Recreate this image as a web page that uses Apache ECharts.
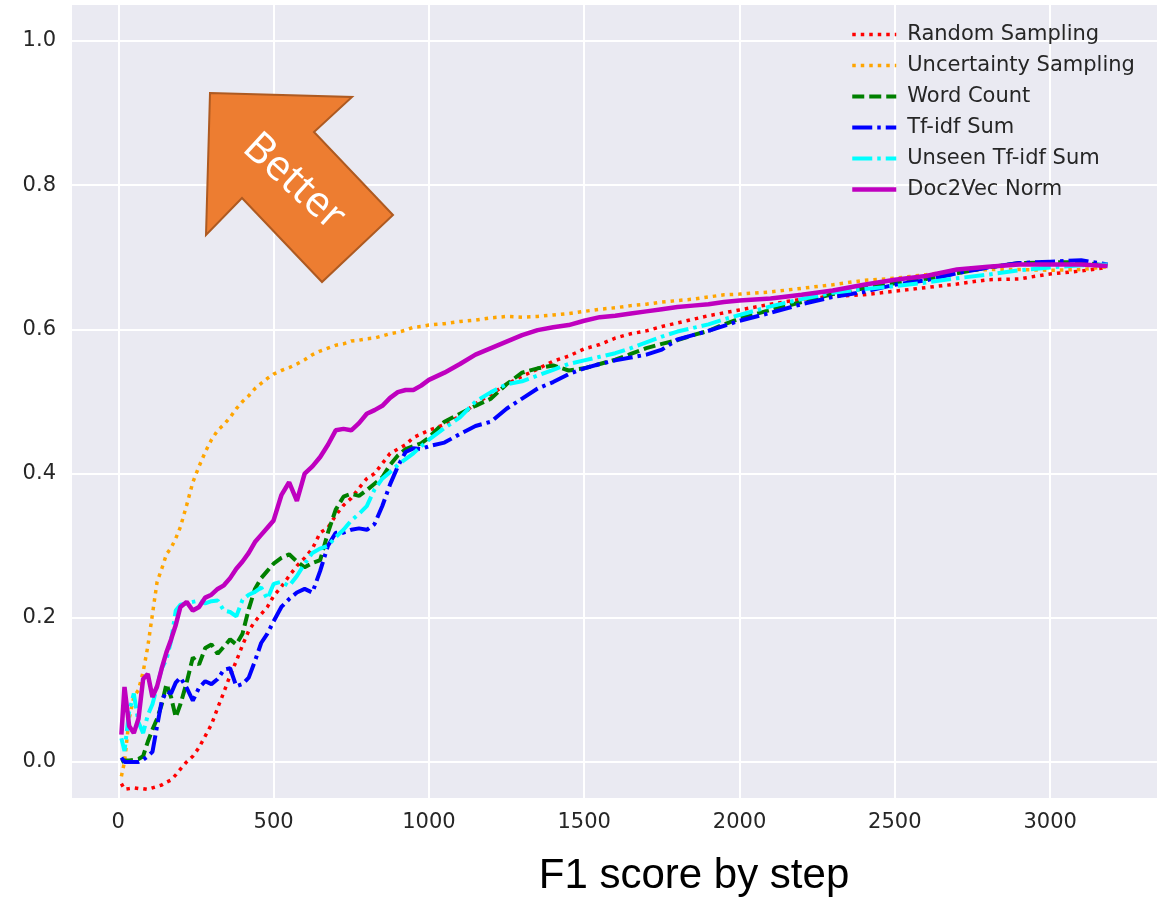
<!DOCTYPE html>
<html>
<head>
<meta charset="utf-8">
<title>F1 score by step</title>
<script src="https://cdn.jsdelivr.net/npm/echarts@6/dist/echarts.min.js"></script>
<style>
  html, body { margin: 0; padding: 0; background: #fff; }
  #chart { width: 1166px; height: 900px; }
</style>
</head>
<body>
<div id="chart"></div>
<script>
var steps = [10, 20, 35, 50, 65, 80, 95, 110, 125, 140, 155, 170, 185, 200,
  220, 240, 260, 280, 300, 320, 340, 360, 380, 400, 420, 440, 460, 480, 500,
  525, 550, 575, 600, 625, 650, 675, 700, 725, 750, 775, 800, 825, 850, 875, 900, 925, 950, 975, 1000,
  1050, 1100, 1150, 1200, 1250, 1300, 1350, 1400, 1450, 1500, 1550, 1600, 1650, 1700, 1750, 1800, 1850, 1900, 1950, 2000,
  2100, 2200, 2300, 2400, 2500, 2600, 2700, 2800, 2900, 3000, 3100, 3185];

var randomSampling = [-0.03, -0.038, -0.037, -0.036, -0.037, -0.037, -0.038, -0.036, -0.034, -0.032, -0.028, -0.025, -0.018, -0.01,
  0.0, 0.008, 0.02, 0.036, 0.052, 0.075, 0.097, 0.12, 0.14, 0.162, 0.182, 0.195, 0.205, 0.215, 0.23,
  0.243, 0.258, 0.272, 0.283, 0.296, 0.318, 0.325, 0.342, 0.356, 0.366, 0.38, 0.393, 0.4, 0.414, 0.428, 0.434, 0.44, 0.45, 0.455, 0.46,
  0.468, 0.48, 0.497, 0.51, 0.524, 0.535, 0.545, 0.556, 0.563, 0.573, 0.579, 0.588, 0.594, 0.598, 0.604, 0.609, 0.614, 0.619, 0.623, 0.627,
  0.635, 0.642, 0.646, 0.648, 0.653, 0.658, 0.663, 0.669, 0.67, 0.677, 0.681, 0.686];

var uncertaintySampling = [-0.02, 0.0, 0.06, 0.09, 0.1, 0.125, 0.16, 0.205, 0.25, 0.268, 0.288, 0.297, 0.31, 0.326,
  0.356, 0.388, 0.41, 0.43, 0.447, 0.46, 0.468, 0.478, 0.49, 0.5, 0.508, 0.518, 0.525, 0.532, 0.538,
  0.543, 0.547, 0.552, 0.558, 0.565, 0.57, 0.574, 0.578, 0.58, 0.584, 0.585, 0.587, 0.588, 0.591, 0.594, 0.596, 0.599, 0.603, 0.604, 0.606,
  0.608, 0.611, 0.613, 0.616, 0.618, 0.617, 0.618, 0.62, 0.622, 0.625, 0.628, 0.63, 0.633, 0.635, 0.638, 0.64, 0.642, 0.645, 0.648, 0.649,
  0.652, 0.657, 0.662, 0.668, 0.671, 0.676, 0.681, 0.683, 0.683, 0.682, 0.683, 0.687];

var wordCount = [0.0, 0.002, 0.002, 0.003, 0.004, 0.008, 0.028, 0.045, 0.06, 0.08, 0.108, 0.09, 0.062, 0.08,
  0.11, 0.145, 0.135, 0.158, 0.163, 0.15, 0.16, 0.17, 0.163, 0.178, 0.212, 0.24, 0.255, 0.265, 0.275,
  0.283, 0.288, 0.278, 0.27, 0.276, 0.28, 0.318, 0.35, 0.368, 0.372, 0.369, 0.377, 0.386, 0.395, 0.412, 0.425, 0.434, 0.438, 0.442, 0.45,
  0.472, 0.483, 0.494, 0.504, 0.524, 0.54, 0.546, 0.55, 0.543, 0.546, 0.552, 0.558, 0.566, 0.574, 0.58, 0.585, 0.592, 0.598, 0.607, 0.615,
  0.627, 0.638, 0.649, 0.657, 0.664, 0.67, 0.678, 0.686, 0.692, 0.693, 0.693, 0.688];

var tfidfSum = [0.006, 0.0, 0.0, 0.0, 0.0, 0.003, 0.008, 0.014, 0.05, 0.085, 0.098, 0.095, 0.11, 0.117,
  0.103, 0.085, 0.103, 0.112, 0.108, 0.115, 0.128, 0.13, 0.105, 0.108, 0.117, 0.14, 0.165, 0.178, 0.195,
  0.215, 0.226, 0.235, 0.24, 0.235, 0.265, 0.3, 0.318, 0.318, 0.322, 0.324, 0.322, 0.33, 0.355, 0.385, 0.41, 0.43, 0.435, 0.434, 0.438,
  0.443, 0.455, 0.466, 0.472, 0.49, 0.504, 0.518, 0.527, 0.538, 0.546, 0.552, 0.557, 0.561, 0.565, 0.572, 0.586, 0.592, 0.598, 0.605, 0.612,
  0.623, 0.635, 0.645, 0.652, 0.662, 0.668, 0.678, 0.686, 0.692, 0.694, 0.696, 0.69];

var unseenTfidfSum = [0.033, 0.015, 0.07, 0.095, 0.055, 0.04, 0.065, 0.08, 0.105, 0.13, 0.142, 0.168, 0.21, 0.218,
  0.22, 0.222, 0.224, 0.22, 0.223, 0.224, 0.21, 0.208, 0.202, 0.225, 0.232, 0.236, 0.242, 0.226, 0.247,
  0.25, 0.244, 0.258, 0.275, 0.29, 0.296, 0.3, 0.312, 0.322, 0.335, 0.344, 0.355, 0.378, 0.393, 0.402, 0.412, 0.42, 0.428, 0.438, 0.447,
  0.463, 0.478, 0.5, 0.513, 0.524, 0.528, 0.536, 0.544, 0.552, 0.557, 0.562, 0.567, 0.574, 0.582, 0.59, 0.597, 0.602, 0.607, 0.614, 0.62,
  0.632, 0.642, 0.651, 0.656, 0.66, 0.665, 0.671, 0.676, 0.682, 0.686, 0.689, 0.69];

var doc2vecNorm = [0.038, 0.104, 0.05, 0.04, 0.06, 0.115, 0.122, 0.09, 0.105, 0.13, 0.152, 0.17, 0.19, 0.215,
  0.222, 0.21, 0.215, 0.228, 0.232, 0.24, 0.245, 0.255, 0.268, 0.278, 0.29, 0.305, 0.315, 0.325, 0.335,
  0.37, 0.388, 0.362, 0.4, 0.41, 0.423, 0.44, 0.46, 0.462, 0.46, 0.47, 0.483, 0.488, 0.494, 0.505, 0.513, 0.516, 0.516, 0.522, 0.53,
  0.54, 0.552, 0.565, 0.574, 0.583, 0.592, 0.599, 0.603, 0.606, 0.612, 0.617, 0.619, 0.622, 0.625, 0.628, 0.631, 0.633, 0.635, 0.638, 0.64,
  0.643, 0.648, 0.654, 0.662, 0.669, 0.674, 0.683, 0.687, 0.69, 0.69, 0.69, 0.688];

var xTicks = [0, 500, 1000, 1500, 2000, 2500, 3000];
var yTicks = [0, 0.2, 0.4, 0.6, 0.8, 1.0];

var seriesNames = ['Random Sampling', 'Uncertainty Sampling', 'Word Count', 'Tf-idf Sum', 'Unseen Tf-idf Sum', 'Doc2Vec Norm'];
var seriesValues = [randomSampling, uncertaintySampling, wordCount, tfidfSum, unseenTfidfSum, doc2vecNorm];
var seriesColors = ['#ff0000', '#ffa500', '#008000', '#0000ff', '#00ffff', '#bf00bf'];
var seriesDash = [[3.5, 5], [3.5, 5], [12, 5], [20, 5, 3.5, 5], [20, 5, 3.5, 5], 'solid'];
var seriesWidth = [3.5, 3.5, 4, 4, 4, 4.5];

function pairs(vals) {
  return steps.map(function (s, i) { return [s, vals[i]]; });
}

var series = seriesNames.map(function (name, i) {
  return {
    name: name,
    type: 'line',
    data: pairs(seriesValues[i]),
    symbol: 'none',
    showSymbol: false,
    color: seriesColors[i],
    lineStyle: { color: seriesColors[i], width: seriesWidth[i], type: seriesDash[i], cap: 'butt' },
    z: 2 + i
  };
});

var chart = echarts.init(document.getElementById('chart'), null, { renderer: 'canvas' });
var textColor = '#262626';
chart.setOption({
  animation: false,
  backgroundColor: '#ffffff',
  grid: { left: 72, top: 5, right: 9, bottom: 102, show: true, backgroundColor: '#eaeaf2', borderWidth: 0 },
  legend: {
    data: seriesNames,
    orient: 'vertical',
    left: 845,
    top: 19,
    itemWidth: 44,
    itemHeight: 14,
    itemGap: 10,
    itemStyle: { opacity: 0 },
    lineStyle: { width: 'inherit', type: 'inherit' },
    textStyle: { color: textColor, fontSize: 21, fontFamily: 'DejaVu Sans', lineHeight: 21, padding: [0, 0, 0, 6] }
  },
  xAxis: {
    type: 'value',
    min: -149,
    max: 3344,
    axisLine: { show: false },
    axisTick: { show: false, customValues: xTicks },
    axisLabel: { customValues: xTicks, color: textColor, fontSize: 21, fontFamily: 'DejaVu Sans', margin: 14,
      formatter: function (v) { return String(v); } },
    splitLine: { show: true, lineStyle: { color: '#ffffff', width: 2 } }
  },
  yAxis: {
    type: 'value',
    min: -0.05,
    max: 1.05,
    axisLine: { show: false },
    axisTick: { show: false, customValues: yTicks },
    axisLabel: { customValues: yTicks, color: textColor, fontSize: 21, fontFamily: 'DejaVu Sans', margin: 16,
      formatter: function (v) { return v.toFixed(1); } },
    splitLine: { show: true, lineStyle: { color: '#ffffff', width: 2 } }
  },
  graphic: [
    {
      type: 'polygon',
      z: 100,
      shape: { points: [[210, 93], [352, 97], [314, 132], [393, 215], [322, 282], [242, 198], [206, 235]] },
      style: { fill: '#ed7d31', stroke: '#ae5a21', lineWidth: 2 }
    },
    {
      type: 'text',
      z: 101,
      x: 294,
      y: 182,
      rotation: -0.74,
      style: { text: 'Better', fill: '#ffffff', font: '42px "Open Sans"', align: 'center', verticalAlign: 'middle' }
    },
    {
      type: 'text',
      z: 101,
      x: 694,
      y: 876,
      style: { text: 'F1 score by step', fill: '#000000', font: '42px "Liberation Sans"', align: 'center', verticalAlign: 'middle' }
    }
  ],
  series: series
});
</script>
</body>
</html>
